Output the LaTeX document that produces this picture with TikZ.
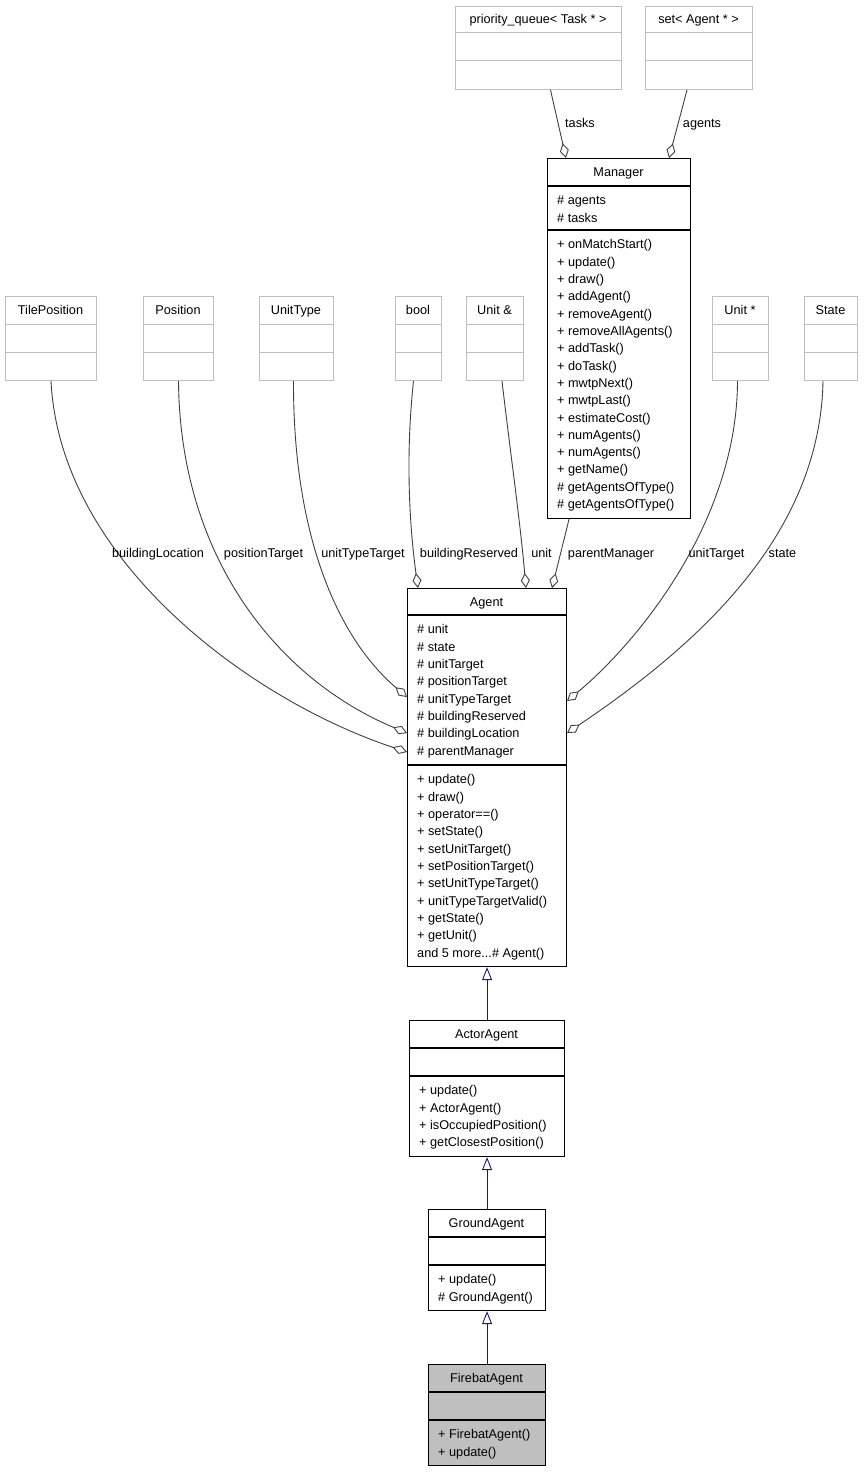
\documentclass[tikz,border=0pt]{standalone}
\usepackage{fontspec}
\setmainfont{Liberation Sans}
\usetikzlibrary{arrows.meta,calc}
\definecolor{edgegray}{HTML}{404040}
\definecolor{boxgray}{HTML}{BFBFBF}
\definecolor{inhblue}{HTML}{191970}
\def\tdots{...}
\tikzset{
  txt/.style={inner sep=0pt, font=\fontsize{12.7}{15}\selectfont},
  clsbox/.style={draw=black, line width=1.1pt, inner sep=0pt, fill=white},
  clsbox line/.style={draw=black, line width=1.1pt},
  extbox/.style={draw=boxgray, line width=1pt, inner sep=0pt, fill=white},
  extbox line/.style={draw=boxgray, line width=1pt},
  curbox/.style={draw=black, line width=1.1pt, inner sep=0pt, fill=boxgray},
  curbox line/.style={draw=black, line width=1.1pt},
  agg/.style={draw=edgegray, line width=0.9pt, -{Diamond[open, length=15pt, width=9pt]}},
  inh/.style={draw=inhblue, line width=0.9pt, -{Triangle[open, length=13pt, width=10pt]}},
  lbl/.style={txt, anchor=base},
}
\newcommand\umlclass[9]{%
  \node[#8, anchor=north west, minimum width={(#4-#2)*1pt}, minimum height={(#7-#3)*1pt}] (#1) at (#2,#3) {};
  \draw[#8 line] (#2,#5) -- (#4,#5) (#2,#6) -- (#4,#6);
  \node[txt, anchor=base] (#1-title) at ({(#2+#4)/2},{#3+18}) {#9};
}
\newcommand\umlrows[4]{%
  \foreach \t [count=\i from 0] in {#4}{\node[txt, anchor=base west] (#1-\i) at (#2,{#3+18.7+\i*17.33}) {\t};}%
}
\begin{document}
\begin{tikzpicture}[x=1pt,y=-1pt]
\useasboundingbox[fill=white] (0,0) rectangle (863,1472);

% external types
\umlclass{pq}{455}{6}{621}{33}{61}{89}{extbox}{priority\_queue< Task * >}
\umlclass{setag}{645}{6}{752}{33}{61}{89}{extbox}{set< Agent * >}
\umlclass{tilepos}{5}{296}{96}{324}{352}{380}{extbox}{TilePosition}
\umlclass{position}{143}{296}{213}{324}{352}{380}{extbox}{Position}
\umlclass{unittype}{259}{296}{333}{324}{352}{380}{extbox}{UnitType}
\umlclass{bool}{395}{296}{441}{324}{352}{380}{extbox}{bool}
\umlclass{unitref}{466}{296}{523}{324}{352}{380}{extbox}{Unit \&}
\umlclass{unitptr}{712}{296}{768}{324}{352}{380}{extbox}{Unit *}
\umlclass{state}{804}{296}{857}{324}{352}{380}{extbox}{State}

% Manager
\umlclass{manager}{547}{158}{690}{186}{230}{518}{clsbox}{Manager}
\umlrows{manager-a}{557}{186}{\# agents,\# tasks}
\umlrows{manager-m}{557}{230}{+ onMatchStart(),+ update(),+ draw(),+ addAgent(),+ removeAgent(),+ removeAllAgents(),+ addTask(),+ doTask(),+ mwtpNext(),+ mwtpLast(),+ estimateCost(),+ numAgents(),+ numAgents(),+ getName(),\# getAgentsOfType(),\# getAgentsOfType()}

% Agent
\umlclass{agent}{407}{588}{566}{615}{765}{966}{clsbox}{Agent}
\umlrows{agent-a}{417}{615}{\# unit,\# state,\# unitTarget,\# positionTarget,\# unitTypeTarget,\# buildingReserved,\# buildingLocation,\# parentManager}
\umlrows{agent-m}{417}{765}{+ update(),+ draw(),+ operator==(),+ setState(),+ setUnitTarget(),+ setPositionTarget(),+ setUnitTypeTarget(),+ unitTypeTargetValid(),+ getState(),+ getUnit(),and 5 more\tdots\# Agent()}

% ActorAgent
\umlclass{actor}{409}{1020}{564}{1048}{1076}{1156}{clsbox}{ActorAgent}
\umlrows{actor-m}{419}{1076}{+ update(),+ ActorAgent(),+ isOccupiedPosition(),+ getClosestPosition()}

% GroundAgent
\umlclass{ground}{428}{1209}{545}{1237}{1265}{1310}{clsbox}{GroundAgent}
\umlrows{ground-m}{438}{1265}{+ update(),\# GroundAgent()}

% FirebatAgent
\umlclass{firebat}{428}{1364}{545}{1392}{1420}{1465}{curbox}{FirebatAgent}
\umlrows{firebat-m}{438}{1420}{+ FirebatAgent(),+ update()}

% aggregation edges into Manager
\draw[agg] ($(pq.south)+(12,0)$) -- ($(manager.north west)+(19,0)$);
\draw[agg] ($(setag.south)+(-12,0)$) -- ($(manager.north west)+(122,0)$);
\node[lbl] (l-tasks) at (580,127) {tasks};
\node[lbl] (l-agents) at (702,127) {agents};

% aggregation edges into Agent
\draw[agg] (tilepos.south) .. controls (60,560) and (250,700) .. ($(agent.north west)+(0,164)$);
\draw[agg] (position.south) .. controls (180,560) and (280,680) .. ($(agent.north west)+(0,145)$);
\draw[agg] ($(unittype.south)+(-3,0)$) .. controls (293,540) and (340,640) .. ($(agent.north west)+(0,109)$);
\draw[agg] ($(bool.south)+(-5,0)$) .. controls (405,460) and (410,530) .. ($(agent.north west)+(11,0)$);
\draw[agg] ($(unitref.south)+(7,0)$) .. controls (510,450) and (520,520) .. ($(agent.north west)+(119,0)$);
\draw[agg] ($(manager.south)+(-50,0)$) -- ($(agent.north west)+(145,0)$);
\draw[agg] ($(unitptr.south)+(-3,0)$) .. controls (737,520) and (640,640) .. ($(agent.north east)+(0,113)$);
\draw[agg] ($(state.south)+(-8,0)$) .. controls (820,540) and (690,650) .. ($(agent.north east)+(0,145)$);

\node[lbl] (l-bl) at (158,557) {buildingLocation};
\node[lbl] (l-pt) at (263.5,557) {positionTarget};
\node[lbl] (l-utt) at (363,557) {unitTypeTarget};
\node[lbl] (l-br) at (469,557) {buildingReserved};
\node[lbl] (l-unit) at (541.5,557) {unit};
\node[lbl] (l-pm) at (611,557) {parentManager};
\node[lbl] (l-ut) at (716.5,557) {unitTarget};
\node[lbl] (l-state) at (782.5,557) {state};

% inheritance
\draw[inh] (actor.north) -- (agent.south);
\draw[inh] (ground.north) -- (actor.south);
\draw[inh] (firebat.north) -- (ground.south);
\end{tikzpicture}
\end{document}
